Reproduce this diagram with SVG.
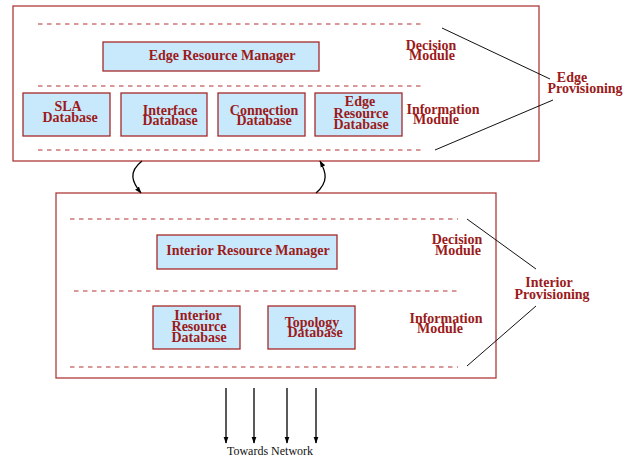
<svg xmlns="http://www.w3.org/2000/svg" width="633" height="460" viewBox="0 0 633 460">
<defs>
<style>
.frame{fill:#fff;stroke:#b03a3a;stroke-width:1.3}
.box{fill:#c8e8fb;stroke:#a52a2a;stroke-width:1.3}
.dash{stroke:#b23232;stroke-width:1;stroke-dasharray:4.5 4.5;fill:none}
.lbl{font-family:"Liberation Serif","Times New Roman",serif;font-weight:bold;font-size:14px;fill:#9b1b1b;text-anchor:middle}
.ln{stroke:#111;stroke-width:1;fill:none}
.arr{stroke:#000;stroke-width:1.3;fill:none}
.net{font-family:"Liberation Serif","Times New Roman",serif;font-size:12px;fill:#111;text-anchor:middle}
</style>
<marker id="ah" viewBox="0 0 10 10" refX="9" refY="5" markerWidth="7" markerHeight="7" orient="auto" markerUnits="userSpaceOnUse">
<path d="M0,1.5 L10,5 L0,8.5 Z" fill="#000"/>
</marker>
</defs>

<g id="edge-frame">
<rect class="frame" x="13" y="6" width="526" height="155"/>
<line class="dash" x1="38" y1="24" x2="424" y2="24"/>
<line class="dash" x1="38" y1="86" x2="424" y2="86"/>
<line class="dash" x1="38" y1="150" x2="424" y2="150"/>
</g>

<g id="edge-resource-manager">
<rect class="box" x="103" y="42" width="216" height="29"/>
<text class="lbl" x="222" y="60">Edge Resource Manager</text>
</g>
<g id="sla-db">
<rect class="box" x="23" y="93" width="87" height="43"/>
<text class="lbl" x="68" y="111">SLA</text>
<text class="lbl" x="70" y="122">Database</text>
</g>
<g id="interface-db">
<rect class="box" x="121" y="93" width="86" height="43"/>
<text class="lbl" x="170" y="115">Interface</text>
<text class="lbl" x="170" y="125">Database</text>
</g>
<g id="connection-db">
<rect class="box" x="218" y="93" width="87" height="43"/>
<text class="lbl" x="264" y="115">Connection</text>
<text class="lbl" x="264" y="125">Database</text>
</g>
<g id="edge-resource-db">
<rect class="box" x="315" y="93" width="87" height="43"/>
<text class="lbl" x="360" y="106">Edge</text>
<text class="lbl" x="361" y="118">Resource</text>
<text class="lbl" x="361" y="129">Database</text>
</g>
<g id="edge-decision-label">
<text class="lbl" x="431" y="50">Decision</text>
<text class="lbl" x="432" y="60">Module</text>
</g>
<g id="edge-info-label">
<text class="lbl" x="443" y="114">Information</text>
<text class="lbl" x="436" y="124">Module</text>
</g>
<g id="edge-provisioning">
<text class="lbl" x="572" y="82">Edge</text>
<text class="lbl" x="585" y="93">Provisioning</text>
</g>

<g id="interior-frame">
<rect class="frame" x="56" y="193" width="440" height="185"/>
<line class="dash" x1="70" y1="219" x2="458" y2="219"/>
<line class="dash" x1="74" y1="291" x2="461" y2="291"/>
<line class="dash" x1="70" y1="367" x2="458" y2="367"/>
</g>
<g id="interior-resource-manager">
<rect class="box" x="157" y="235" width="180" height="34"/>
<text class="lbl" x="248" y="255">Interior Resource Manager</text>
</g>
<g id="interior-resource-db">
<rect class="box" x="153" y="306" width="87" height="43"/>
<text class="lbl" x="198" y="320">Interior</text>
<text class="lbl" x="199" y="331">Resource</text>
<text class="lbl" x="199" y="342">Database</text>
</g>
<g id="topology-db">
<rect class="box" x="268" y="306" width="87" height="43"/>
<text class="lbl" x="312" y="327">Topology</text>
<text class="lbl" x="315" y="337">Database</text>
</g>
<g id="interior-decision-label">
<text class="lbl" x="457" y="244">Decision</text>
<text class="lbl" x="458" y="255">Module</text>
</g>
<g id="interior-info-label">
<text class="lbl" x="446" y="323">Information</text>
<text class="lbl" x="440" y="333">Module</text>
</g>
<g id="interior-provisioning">
<text class="lbl" x="549" y="287">Interior</text>
<text class="lbl" x="552" y="299">Provisioning</text>
</g>

<g id="connectors">
<line class="ln" x1="442" y1="28" x2="550" y2="79"/>
<line class="ln" x1="435" y1="150" x2="553" y2="100"/>
<line class="ln" x1="467" y1="219" x2="536" y2="269"/>
<line class="ln" x1="536" y1="306" x2="467" y2="366"/>
<path class="arr" d="M142,161 C128,172 132,182 141,193" marker-end="url(#ah)"/>
<path class="arr" d="M316,193 C329,182 326,172 320,161" marker-end="url(#ah)"/>
<line class="arr" x1="226" y1="388" x2="226" y2="443" marker-end="url(#ah)"/>
<line class="arr" x1="254" y1="388" x2="254" y2="443" marker-end="url(#ah)"/>
<line class="arr" x1="287" y1="388" x2="287" y2="443" marker-end="url(#ah)"/>
<line class="arr" x1="316" y1="388" x2="316" y2="443" marker-end="url(#ah)"/>
</g>
<g id="towards-network">
<text class="net" x="270" y="455">Towards Network</text>
</g>
</svg>
